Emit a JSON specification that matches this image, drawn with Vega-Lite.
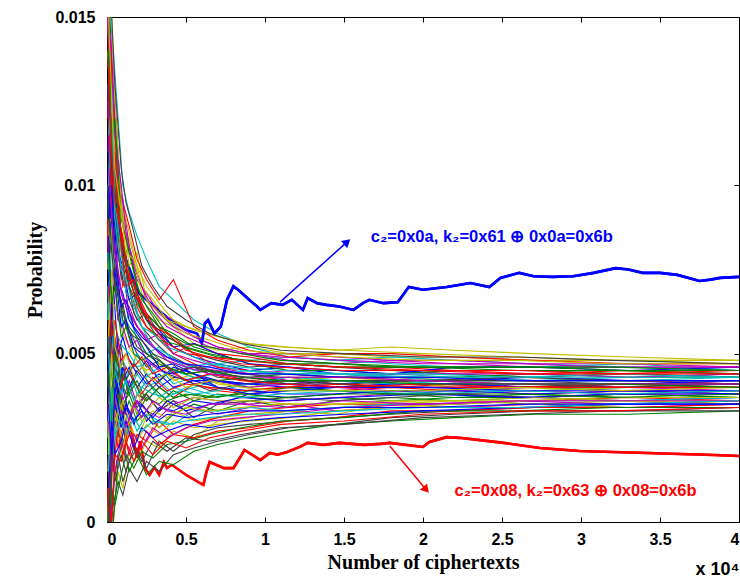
{
"$schema":"https://vega.github.io/schema/vega-lite/v6.json",
"width":632,"height":505,
"autosize":{"type":"none"},
"padding":{"left":107,"top":17,"right":1,"bottom":60},
"background":"white",
"config":{"view":{"stroke":"#000","strokeWidth":1},
"axis":{"grid":false,"domain":false,"labelFont":"Liberation Sans","labelFontWeight":"bold","labelFontSize":16,"labelColor":"#000","tickColor":"#000","tickSize":-5,"titleColor":"#000"}},
"title":{"text":"x 10⁴","orient":"bottom","anchor":"end","font":"Liberation Sans","fontWeight":"bold","fontSize":18,"color":"#000","offset":-11},
"datasets":{
"thin":[
{"s":1,"x":0.005,"y":0.015},{"s":1,"x":0.02,"y":0.014},{"s":1,"x":0.04,"y":0.011},{"s":1,"x":0.07,"y":0.0095},{"s":1,"x":0.1,"y":0.008},{"s":1,"x":0.14,"y":0.0072},{"s":1,"x":0.19,"y":0.0066},{"s":1,"x":0.25,"y":0.006},{"s":1,"x":0.33,"y":0.0057},{"s":1,"x":0.42,"y":0.0052},{"s":1,"x":0.55,"y":0.0049},{"s":1,"x":0.7,"y":0.0047},{"s":1,"x":0.9,"y":0.0045},{"s":1,"x":1.15,"y":0.0046},{"s":1,"x":1.45,"y":0.0044},{"s":1,"x":1.8,"y":0.0043},{"s":1,"x":2.2,"y":0.0043},{"s":1,"x":2.7,"y":0.0042},{"s":1,"x":3.3,"y":0.0042},{"s":1,"x":4,"y":0.0041},
{"s":2,"x":0.005,"y":0},{"s":2,"x":0.02,"y":0},{"s":2,"x":0.04,"y":0.0025},{"s":2,"x":0.07,"y":0.004},{"s":2,"x":0.1,"y":0.003},{"s":2,"x":0.14,"y":0.0036},{"s":2,"x":0.19,"y":0.003},{"s":2,"x":0.25,"y":0.0033},{"s":2,"x":0.33,"y":0.0028},{"s":2,"x":0.42,"y":0.0032},{"s":2,"x":0.55,"y":0.0035},{"s":2,"x":0.7,"y":0.0033},{"s":2,"x":0.9,"y":0.0036},{"s":2,"x":1.15,"y":0.0034},{"s":2,"x":1.45,"y":0.0036},{"s":2,"x":1.8,"y":0.0037},{"s":2,"x":2.2,"y":0.0036},{"s":2,"x":2.7,"y":0.0037},{"s":2,"x":3.3,"y":0.0038},{"s":2,"x":4,"y":0.0037},
{"s":3,"x":0.005,"y":0.012},{"s":3,"x":0.02,"y":0.015},{"s":3,"x":0.04,"y":0.012},{"s":3,"x":0.07,"y":0.009},{"s":3,"x":0.1,"y":0.0085},{"s":3,"x":0.14,"y":0.007},{"s":3,"x":0.19,"y":0.0062},{"s":3,"x":0.25,"y":0.0058},{"s":3,"x":0.33,"y":0.0054},{"s":3,"x":0.42,"y":0.005},{"s":3,"x":0.55,"y":0.0047},{"s":3,"x":0.7,"y":0.0044},{"s":3,"x":0.9,"y":0.0042},{"s":3,"x":1.15,"y":0.0043},{"s":3,"x":1.45,"y":0.0041},{"s":3,"x":1.8,"y":0.004},{"s":3,"x":2.2,"y":0.0041},{"s":3,"x":2.7,"y":0.0041},{"s":3,"x":3.3,"y":0.004},{"s":3,"x":4,"y":0.004},
{"s":4,"x":0.005,"y":0.006},{"s":4,"x":0.02,"y":0.008},{"s":4,"x":0.04,"y":0.0045},{"s":4,"x":0.07,"y":0.003},{"s":4,"x":0.1,"y":0.0045},{"s":4,"x":0.14,"y":0.0038},{"s":4,"x":0.19,"y":0.0044},{"s":4,"x":0.25,"y":0.004},{"s":4,"x":0.33,"y":0.0042},{"s":4,"x":0.42,"y":0.0038},{"s":4,"x":0.55,"y":0.004},{"s":4,"x":0.7,"y":0.0042},{"s":4,"x":0.9,"y":0.004},{"s":4,"x":1.15,"y":0.0042},{"s":4,"x":1.45,"y":0.0043},{"s":4,"x":1.8,"y":0.0044},{"s":4,"x":2.2,"y":0.0043},{"s":4,"x":2.7,"y":0.0042},{"s":4,"x":3.3,"y":0.0043},{"s":4,"x":4,"y":0.0044},
{"s":5,"x":0.005,"y":0.015},{"s":5,"x":0.02,"y":0.013},{"s":5,"x":0.04,"y":0.0135},{"s":5,"x":0.07,"y":0.011},{"s":5,"x":0.1,"y":0.009},{"s":5,"x":0.14,"y":0.008},{"s":5,"x":0.19,"y":0.0072},{"s":5,"x":0.25,"y":0.0068},{"s":5,"x":0.33,"y":0.0062},{"s":5,"x":0.42,"y":0.006},{"s":5,"x":0.55,"y":0.0055},{"s":5,"x":0.7,"y":0.0052},{"s":5,"x":0.9,"y":0.005},{"s":5,"x":1.15,"y":0.0048},{"s":5,"x":1.45,"y":0.0047},{"s":5,"x":1.8,"y":0.0048},{"s":5,"x":2.2,"y":0.0047},{"s":5,"x":2.7,"y":0.0046},{"s":5,"x":3.3,"y":0.0046},{"s":5,"x":4,"y":0.0046},
{"s":6,"x":0.005,"y":0},{"s":6,"x":0.02,"y":0},{"s":6,"x":0.04,"y":0},{"s":6,"x":0.07,"y":0.0015},{"s":6,"x":0.1,"y":0.001},{"s":6,"x":0.14,"y":0.002},{"s":6,"x":0.19,"y":0.0018},{"s":6,"x":0.25,"y":0.0024},{"s":6,"x":0.33,"y":0.0022},{"s":6,"x":0.42,"y":0.0027},{"s":6,"x":0.55,"y":0.0025},{"s":6,"x":0.7,"y":0.003},{"s":6,"x":0.9,"y":0.0031},{"s":6,"x":1.15,"y":0.0033},{"s":6,"x":1.45,"y":0.0032},{"s":6,"x":1.8,"y":0.0035},{"s":6,"x":2.2,"y":0.0034},{"s":6,"x":2.7,"y":0.0035},{"s":6,"x":3.3,"y":0.0036},{"s":6,"x":4,"y":0.0035},
{"s":7,"x":0.005,"y":0.009},{"s":7,"x":0.02,"y":0.011},{"s":7,"x":0.04,"y":0.008},{"s":7,"x":0.07,"y":0.006},{"s":7,"x":0.1,"y":0.0065},{"s":7,"x":0.14,"y":0.0055},{"s":7,"x":0.19,"y":0.005},{"s":7,"x":0.25,"y":0.0046},{"s":7,"x":0.33,"y":0.0048},{"s":7,"x":0.42,"y":0.0044},{"s":7,"x":0.55,"y":0.0046},{"s":7,"x":0.7,"y":0.0044},{"s":7,"x":0.9,"y":0.0043},{"s":7,"x":1.15,"y":0.0041},{"s":7,"x":1.45,"y":0.0042},{"s":7,"x":1.8,"y":0.0041},{"s":7,"x":2.2,"y":0.0041},{"s":7,"x":2.7,"y":0.004},{"s":7,"x":3.3,"y":0.0039},{"s":7,"x":4,"y":0.0039},
{"s":8,"x":0.005,"y":0.003},{"s":8,"x":0.02,"y":0.005},{"s":8,"x":0.04,"y":0.006},{"s":8,"x":0.07,"y":0.0038},{"s":8,"x":0.1,"y":0.004},{"s":8,"x":0.14,"y":0.0032},{"s":8,"x":0.19,"y":0.0036},{"s":8,"x":0.25,"y":0.003},{"s":8,"x":0.33,"y":0.0034},{"s":8,"x":0.42,"y":0.0033},{"s":8,"x":0.55,"y":0.0036},{"s":8,"x":0.7,"y":0.0035},{"s":8,"x":0.9,"y":0.0038},{"s":8,"x":1.15,"y":0.0037},{"s":8,"x":1.45,"y":0.0038},{"s":8,"x":1.8,"y":0.0039},{"s":8,"x":2.2,"y":0.0038},{"s":8,"x":2.7,"y":0.0037},{"s":8,"x":3.3,"y":0.0036},{"s":8,"x":4,"y":0.0037},
{"s":9,"x":0.005,"y":0.015},{"s":9,"x":0.02,"y":0.015},{"s":9,"x":0.04,"y":0.0105},{"s":9,"x":0.07,"y":0.01},{"s":9,"x":0.1,"y":0.0078},{"s":9,"x":0.14,"y":0.0082},{"s":9,"x":0.19,"y":0.007},{"s":9,"x":0.25,"y":0.0064},{"s":9,"x":0.33,"y":0.0058},{"s":9,"x":0.42,"y":0.0056},{"s":9,"x":0.55,"y":0.0052},{"s":9,"x":0.7,"y":0.005},{"s":9,"x":0.9,"y":0.0047},{"s":9,"x":1.15,"y":0.0045},{"s":9,"x":1.45,"y":0.0045},{"s":9,"x":1.8,"y":0.0044},{"s":9,"x":2.2,"y":0.0045},{"s":9,"x":2.7,"y":0.0045},{"s":9,"x":3.3,"y":0.0044},{"s":9,"x":4,"y":0.0043},
{"s":10,"x":0.005,"y":0},{"s":10,"x":0.02,"y":0.003},{"s":10,"x":0.04,"y":0.0015},{"s":10,"x":0.07,"y":0.004},{"s":10,"x":0.1,"y":0.0035},{"s":10,"x":0.14,"y":0.003},{"s":10,"x":0.19,"y":0.0038},{"s":10,"x":0.25,"y":0.0036},{"s":10,"x":0.33,"y":0.004},{"s":10,"x":0.42,"y":0.0037},{"s":10,"x":0.55,"y":0.0041},{"s":10,"x":0.7,"y":0.0039},{"s":10,"x":0.9,"y":0.0038},{"s":10,"x":1.15,"y":0.004},{"s":10,"x":1.45,"y":0.0039},{"s":10,"x":1.8,"y":0.004},{"s":10,"x":2.2,"y":0.0039},{"s":10,"x":2.7,"y":0.0038},{"s":10,"x":3.3,"y":0.0039},{"s":10,"x":4,"y":0.0038},
{"s":11,"x":0.005,"y":0.01},{"s":11,"x":0.02,"y":0.009},{"s":11,"x":0.04,"y":0.0075},{"s":11,"x":0.07,"y":0.007},{"s":11,"x":0.1,"y":0.0058},{"s":11,"x":0.14,"y":0.0062},{"s":11,"x":0.19,"y":0.0054},{"s":11,"x":0.25,"y":0.005},{"s":11,"x":0.33,"y":0.0052},{"s":11,"x":0.42,"y":0.0048},{"s":11,"x":0.55,"y":0.0045},{"s":11,"x":0.7,"y":0.0047},{"s":11,"x":0.9,"y":0.0048},{"s":11,"x":1.15,"y":0.0049},{"s":11,"x":1.45,"y":0.0048},{"s":11,"x":1.8,"y":0.0047},{"s":11,"x":2.2,"y":0.0046},{"s":11,"x":2.7,"y":0.0046},{"s":11,"x":3.3,"y":0.0047},{"s":11,"x":4,"y":0.0045},
{"s":12,"x":0.005,"y":0.0045},{"s":12,"x":0.02,"y":0.002},{"s":12,"x":0.04,"y":0.004},{"s":12,"x":0.07,"y":0.005},{"s":12,"x":0.1,"y":0.0036},{"s":12,"x":0.14,"y":0.0042},{"s":12,"x":0.19,"y":0.0035},{"s":12,"x":0.25,"y":0.0038},{"s":12,"x":0.33,"y":0.0033},{"s":12,"x":0.42,"y":0.0036},{"s":12,"x":0.55,"y":0.0034},{"s":12,"x":0.7,"y":0.0032},{"s":12,"x":0.9,"y":0.0034},{"s":12,"x":1.15,"y":0.0035},{"s":12,"x":1.45,"y":0.0033},{"s":12,"x":1.8,"y":0.0034},{"s":12,"x":2.2,"y":0.0034},{"s":12,"x":2.7,"y":0.0035},{"s":12,"x":3.3,"y":0.0034},{"s":12,"x":4,"y":0.0035},
{"s":13,"x":0.005,"y":0.014},{"s":13,"x":0.02,"y":0.012},{"s":13,"x":0.04,"y":0.0125},{"s":13,"x":0.07,"y":0.0096},{"s":13,"x":0.1,"y":0.0092},{"s":13,"x":0.14,"y":0.0076},{"s":13,"x":0.19,"y":0.008},{"s":13,"x":0.25,"y":0.0066},{"s":13,"x":0.33,"y":0.006},{"s":13,"x":0.42,"y":0.0058},{"s":13,"x":0.55,"y":0.0053},{"s":13,"x":0.7,"y":0.0051},{"s":13,"x":0.9,"y":0.0052},{"s":13,"x":1.15,"y":0.005},{"s":13,"x":1.45,"y":0.005},{"s":13,"x":1.8,"y":0.0049},{"s":13,"x":2.2,"y":0.0049},{"s":13,"x":2.7,"y":0.0048},{"s":13,"x":3.3,"y":0.0048},{"s":13,"x":4,"y":0.0047},
{"s":14,"x":0.005,"y":0},{"s":14,"x":0.02,"y":0},{"s":14,"x":0.04,"y":0.001},{"s":14,"x":0.07,"y":0.002},{"s":14,"x":0.1,"y":0.0012},{"s":14,"x":0.14,"y":0.0018},{"s":14,"x":0.19,"y":0.0022},{"s":14,"x":0.25,"y":0.0016},{"s":14,"x":0.33,"y":0.0024},{"s":14,"x":0.42,"y":0.0021},{"s":14,"x":0.55,"y":0.0026},{"s":14,"x":0.7,"y":0.0028},{"s":14,"x":0.9,"y":0.0029},{"s":14,"x":1.15,"y":0.003},{"s":14,"x":1.45,"y":0.0031},{"s":14,"x":1.8,"y":0.0032},{"s":14,"x":2.2,"y":0.0033},{"s":14,"x":2.7,"y":0.0034},{"s":14,"x":3.3,"y":0.0035},{"s":14,"x":4,"y":0.0036},
{"s":15,"x":0.005,"y":0.008},{"s":15,"x":0.02,"y":0.006},{"s":15,"x":0.04,"y":0.007},{"s":15,"x":0.07,"y":0.005},{"s":15,"x":0.1,"y":0.0055},{"s":15,"x":0.14,"y":0.0048},{"s":15,"x":0.19,"y":0.0044},{"s":15,"x":0.25,"y":0.0048},{"s":15,"x":0.33,"y":0.0042},{"s":15,"x":0.42,"y":0.0046},{"s":15,"x":0.55,"y":0.0044},{"s":15,"x":0.7,"y":0.0042},{"s":15,"x":0.9,"y":0.0041},{"s":15,"x":1.15,"y":0.0042},{"s":15,"x":1.45,"y":0.0041},{"s":15,"x":1.8,"y":0.0042},{"s":15,"x":2.2,"y":0.0042},{"s":15,"x":2.7,"y":0.0043},{"s":15,"x":3.3,"y":0.0042},{"s":15,"x":4,"y":0.0042},
{"s":16,"x":0.005,"y":0.002},{"s":16,"x":0.02,"y":0.004},{"s":16,"x":0.04,"y":0.003},{"s":16,"x":0.07,"y":0.0025},{"s":16,"x":0.1,"y":0.0035},{"s":16,"x":0.14,"y":0.0038},{"s":16,"x":0.19,"y":0.0032},{"s":16,"x":0.25,"y":0.0037},{"s":16,"x":0.33,"y":0.0035},{"s":16,"x":0.42,"y":0.0039},{"s":16,"x":0.55,"y":0.0036},{"s":16,"x":0.7,"y":0.0038},{"s":16,"x":0.9,"y":0.0037},{"s":16,"x":1.15,"y":0.0036},{"s":16,"x":1.45,"y":0.0037},{"s":16,"x":1.8,"y":0.0036},{"s":16,"x":2.2,"y":0.0037},{"s":16,"x":2.7,"y":0.0037},{"s":16,"x":3.3,"y":0.0038},{"s":16,"x":4,"y":0.0037},
{"s":17,"x":0.005,"y":0.015},{"s":17,"x":0.02,"y":0.01},{"s":17,"x":0.04,"y":0.009},{"s":17,"x":0.07,"y":0.0085},{"s":17,"x":0.1,"y":0.007},{"s":17,"x":0.14,"y":0.0074},{"s":17,"x":0.19,"y":0.0064},{"s":17,"x":0.25,"y":0.0058},{"s":17,"x":0.33,"y":0.0055},{"s":17,"x":0.42,"y":0.005},{"s":17,"x":0.55,"y":0.0053},{"s":17,"x":0.7,"y":0.005},{"s":17,"x":0.9,"y":0.0049},{"s":17,"x":1.15,"y":0.0047},{"s":17,"x":1.45,"y":0.0046},{"s":17,"x":1.8,"y":0.0046},{"s":17,"x":2.2,"y":0.0045},{"s":17,"x":2.7,"y":0.0044},{"s":17,"x":3.3,"y":0.0045},{"s":17,"x":4,"y":0.0044},
{"s":18,"x":0.005,"y":0.007},{"s":18,"x":0.02,"y":0.005},{"s":18,"x":0.04,"y":0.0055},{"s":18,"x":0.07,"y":0.0042},{"s":18,"x":0.1,"y":0.0048},{"s":18,"x":0.14,"y":0.0044},{"s":18,"x":0.19,"y":0.005},{"s":18,"x":0.25,"y":0.0043},{"s":18,"x":0.33,"y":0.0046},{"s":18,"x":0.42,"y":0.0041},{"s":18,"x":0.55,"y":0.0043},{"s":18,"x":0.7,"y":0.004},{"s":18,"x":0.9,"y":0.0038},{"s":18,"x":1.15,"y":0.0039},{"s":18,"x":1.45,"y":0.0039},{"s":18,"x":1.8,"y":0.0038},{"s":18,"x":2.2,"y":0.0039},{"s":18,"x":2.7,"y":0.0039},{"s":18,"x":3.3,"y":0.004},{"s":18,"x":4,"y":0.004},
{"s":19,"x":0.005,"y":0.011},{"s":19,"x":0.02,"y":0.0125},{"s":19,"x":0.04,"y":0.01},{"s":19,"x":0.07,"y":0.0078},{"s":19,"x":0.1,"y":0.0075},{"s":19,"x":0.14,"y":0.0062},{"s":19,"x":0.19,"y":0.0058},{"s":19,"x":0.25,"y":0.0054},{"s":19,"x":0.33,"y":0.0056},{"s":19,"x":0.42,"y":0.005},{"s":19,"x":0.55,"y":0.0048},{"s":19,"x":0.7,"y":0.0046},{"s":19,"x":0.9,"y":0.0044},{"s":19,"x":1.15,"y":0.0042},{"s":19,"x":1.45,"y":0.004},{"s":19,"x":1.8,"y":0.0039},{"s":19,"x":2.2,"y":0.0039},{"s":19,"x":2.7,"y":0.004},{"s":19,"x":3.3,"y":0.004},{"s":19,"x":4,"y":0.0039},
{"s":20,"x":0.005,"y":0},{"s":20,"x":0.02,"y":0.0035},{"s":20,"x":0.04,"y":0.002},{"s":20,"x":0.07,"y":0.0025},{"s":20,"x":0.1,"y":0.0018},{"s":20,"x":0.14,"y":0.0028},{"s":20,"x":0.19,"y":0.0025},{"s":20,"x":0.25,"y":0.0031},{"s":20,"x":0.33,"y":0.0028},{"s":20,"x":0.42,"y":0.0033},{"s":20,"x":0.55,"y":0.003},{"s":20,"x":0.7,"y":0.0031},{"s":20,"x":0.9,"y":0.0032},{"s":20,"x":1.15,"y":0.0033},{"s":20,"x":1.45,"y":0.0034},{"s":20,"x":1.8,"y":0.0035},{"s":20,"x":2.2,"y":0.0036},{"s":20,"x":2.7,"y":0.0035},{"s":20,"x":3.3,"y":0.0034},{"s":20,"x":4,"y":0.0034},
{"s":21,"x":0.005,"y":0.013},{"s":21,"x":0.02,"y":0.011},{"s":21,"x":0.04,"y":0.0095},{"s":21,"x":0.07,"y":0.008},{"s":21,"x":0.1,"y":0.0072},{"s":21,"x":0.14,"y":0.0066},{"s":21,"x":0.19,"y":0.006},{"s":21,"x":0.25,"y":0.0062},{"s":21,"x":0.33,"y":0.0056},{"s":21,"x":0.42,"y":0.0054},{"s":21,"x":0.55,"y":0.005},{"s":21,"x":0.7,"y":0.0048},{"s":21,"x":0.9,"y":0.0046},{"s":21,"x":1.15,"y":0.0047},{"s":21,"x":1.45,"y":0.0046},{"s":21,"x":1.8,"y":0.0045},{"s":21,"x":2.2,"y":0.0044},{"s":21,"x":2.7,"y":0.0043},{"s":21,"x":3.3,"y":0.0044},{"s":21,"x":4,"y":0.0043},
{"s":22,"x":0.005,"y":0.005},{"s":22,"x":0.02,"y":0.0065},{"s":22,"x":0.04,"y":0.0045},{"s":22,"x":0.07,"y":0.0055},{"s":22,"x":0.1,"y":0.0042},{"s":22,"x":0.14,"y":0.0046},{"s":22,"x":0.19,"y":0.004},{"s":22,"x":0.25,"y":0.0044},{"s":22,"x":0.33,"y":0.004},{"s":22,"x":0.42,"y":0.0043},{"s":22,"x":0.55,"y":0.0042},{"s":22,"x":0.7,"y":0.0042},{"s":22,"x":0.9,"y":0.0041},{"s":22,"x":1.15,"y":0.004},{"s":22,"x":1.45,"y":0.004},{"s":22,"x":1.8,"y":0.0041},{"s":22,"x":2.2,"y":0.0041},{"s":22,"x":2.7,"y":0.0041},{"s":22,"x":3.3,"y":0.0041},{"s":22,"x":4,"y":0.0041},
{"s":23,"x":0.005,"y":0.0095},{"s":23,"x":0.02,"y":0.008},{"s":23,"x":0.04,"y":0.009},{"s":23,"x":0.07,"y":0.0068},{"s":23,"x":0.1,"y":0.0062},{"s":23,"x":0.14,"y":0.0058},{"s":23,"x":0.19,"y":0.0055},{"s":23,"x":0.25,"y":0.005},{"s":23,"x":0.33,"y":0.0047},{"s":23,"x":0.42,"y":0.0045},{"s":23,"x":0.55,"y":0.0043},{"s":23,"x":0.7,"y":0.0042},{"s":23,"x":0.9,"y":0.0043},{"s":23,"x":1.15,"y":0.0044},{"s":23,"x":1.45,"y":0.0043},{"s":23,"x":1.8,"y":0.0043},{"s":23,"x":2.2,"y":0.0043},{"s":23,"x":2.7,"y":0.0044},{"s":23,"x":3.3,"y":0.0043},{"s":23,"x":4,"y":0.0043},
{"s":24,"x":0.005,"y":0.001},{"s":24,"x":0.02,"y":0},{"s":24,"x":0.04,"y":0.003},{"s":24,"x":0.07,"y":0.0022},{"s":24,"x":0.1,"y":0.0028},{"s":24,"x":0.14,"y":0.002},{"s":24,"x":0.19,"y":0.0026},{"s":24,"x":0.25,"y":0.0024},{"s":24,"x":0.33,"y":0.003},{"s":24,"x":0.42,"y":0.0026},{"s":24,"x":0.55,"y":0.0029},{"s":24,"x":0.7,"y":0.0031},{"s":24,"x":0.9,"y":0.0033},{"s":24,"x":1.15,"y":0.0034},{"s":24,"x":1.45,"y":0.0035},{"s":24,"x":1.8,"y":0.0035},{"s":24,"x":2.2,"y":0.0035},{"s":24,"x":2.7,"y":0.0036},{"s":24,"x":3.3,"y":0.0037},{"s":24,"x":4,"y":0.0036},
{"s":25,"x":0.005,"y":0.015},{"s":25,"x":0.02,"y":0.015},{"s":25,"x":0.04,"y":0.014},{"s":25,"x":0.07,"y":0.012},{"s":25,"x":0.1,"y":0.01},{"s":25,"x":0.14,"y":0.0092},{"s":25,"x":0.19,"y":0.0085},{"s":25,"x":0.25,"y":0.0078},{"s":25,"x":0.33,"y":0.007},{"s":25,"x":0.42,"y":0.0066},{"s":25,"x":0.55,"y":0.006},{"s":25,"x":0.7,"y":0.0056},{"s":25,"x":0.9,"y":0.0052},{"s":25,"x":1.15,"y":0.0049},{"s":25,"x":1.45,"y":0.0048},{"s":25,"x":1.8,"y":0.0049},{"s":25,"x":2.2,"y":0.0048},{"s":25,"x":2.7,"y":0.0047},{"s":25,"x":3.3,"y":0.0046},{"s":25,"x":4,"y":0.0045},
{"s":26,"x":0.005,"y":0.0035},{"s":26,"x":0.02,"y":0.0015},{"s":26,"x":0.04,"y":0.0035},{"s":26,"x":0.07,"y":0.0028},{"s":26,"x":0.1,"y":0.0034},{"s":26,"x":0.14,"y":0.003},{"s":26,"x":0.19,"y":0.0036},{"s":26,"x":0.25,"y":0.0033},{"s":26,"x":0.33,"y":0.0031},{"s":26,"x":0.42,"y":0.0035},{"s":26,"x":0.55,"y":0.0037},{"s":26,"x":0.7,"y":0.0036},{"s":26,"x":0.9,"y":0.0035},{"s":26,"x":1.15,"y":0.0036},{"s":26,"x":1.45,"y":0.0037},{"s":26,"x":1.8,"y":0.0038},{"s":26,"x":2.2,"y":0.0038},{"s":26,"x":2.7,"y":0.0039},{"s":26,"x":3.3,"y":0.0038},{"s":26,"x":4,"y":0.0038},
{"s":27,"x":0.005,"y":0.0075},{"s":27,"x":0.02,"y":0.0095},{"s":27,"x":0.04,"y":0.0065},{"s":27,"x":0.07,"y":0.0062},{"s":27,"x":0.1,"y":0.0056},{"s":27,"x":0.14,"y":0.0052},{"s":27,"x":0.19,"y":0.0048},{"s":27,"x":0.25,"y":0.0045},{"s":27,"x":0.33,"y":0.0047},{"s":27,"x":0.42,"y":0.0042},{"s":27,"x":0.55,"y":0.0044},{"s":27,"x":0.7,"y":0.0041},{"s":27,"x":0.9,"y":0.004},{"s":27,"x":1.15,"y":0.0042},{"s":27,"x":1.45,"y":0.0043},{"s":27,"x":1.8,"y":0.0042},{"s":27,"x":2.2,"y":0.004},{"s":27,"x":2.7,"y":0.0039},{"s":27,"x":3.3,"y":0.004},{"s":27,"x":4,"y":0.004},
{"s":28,"x":0.005,"y":0},{"s":28,"x":0.02,"y":0},{"s":28,"x":0.04,"y":0.0005},{"s":28,"x":0.07,"y":0.0012},{"s":28,"x":0.1,"y":0.0008},{"s":28,"x":0.14,"y":0.0016},{"s":28,"x":0.19,"y":0.0012},{"s":28,"x":0.25,"y":0.0018},{"s":28,"x":0.33,"y":0.0015},{"s":28,"x":0.42,"y":0.002},{"s":28,"x":0.55,"y":0.0022},{"s":28,"x":0.7,"y":0.0024},{"s":28,"x":0.9,"y":0.0026},{"s":28,"x":1.15,"y":0.0028},{"s":28,"x":1.45,"y":0.0029},{"s":28,"x":1.8,"y":0.0031},{"s":28,"x":2.2,"y":0.0032},{"s":28,"x":2.7,"y":0.0033},{"s":28,"x":3.3,"y":0.0033},{"s":28,"x":4,"y":0.0034},
{"s":29,"x":0.005,"y":0.0115},{"s":29,"x":0.02,"y":0.009},{"s":29,"x":0.04,"y":0.0105},{"s":29,"x":0.07,"y":0.008},{"s":29,"x":0.1,"y":0.0076},{"s":29,"x":0.14,"y":0.0066},{"s":29,"x":0.19,"y":0.0068},{"s":29,"x":0.25,"y":0.006},{"s":29,"x":0.33,"y":0.0056},{"s":29,"x":0.42,"y":0.0052},{"s":29,"x":0.55,"y":0.0053},{"s":29,"x":0.7,"y":0.005},{"s":29,"x":0.9,"y":0.0047},{"s":29,"x":1.15,"y":0.0046},{"s":29,"x":1.45,"y":0.0045},{"s":29,"x":1.8,"y":0.0044},{"s":29,"x":2.2,"y":0.0046},{"s":29,"x":2.7,"y":0.0046},{"s":29,"x":3.3,"y":0.0045},{"s":29,"x":4,"y":0.0046},
{"s":30,"x":0.005,"y":0.0055},{"s":30,"x":0.02,"y":0.004},{"s":30,"x":0.04,"y":0.005},{"s":30,"x":0.07,"y":0.0035},{"s":30,"x":0.1,"y":0.0044},{"s":30,"x":0.14,"y":0.0038},{"s":30,"x":0.19,"y":0.0042},{"s":30,"x":0.25,"y":0.0036},{"s":30,"x":0.33,"y":0.004},{"s":30,"x":0.42,"y":0.0037},{"s":30,"x":0.55,"y":0.0038},{"s":30,"x":0.7,"y":0.0037},{"s":30,"x":0.9,"y":0.0039},{"s":30,"x":1.15,"y":0.004},{"s":30,"x":1.45,"y":0.0039},{"s":30,"x":1.8,"y":0.0038},{"s":30,"x":2.2,"y":0.0037},{"s":30,"x":2.7,"y":0.0038},{"s":30,"x":3.3,"y":0.0037},{"s":30,"x":4,"y":0.0037},
{"s":31,"x":0.005,"y":0.0135},{"s":31,"x":0.02,"y":0.0145},{"s":31,"x":0.04,"y":0.011},{"s":31,"x":0.07,"y":0.0092},{"s":31,"x":0.1,"y":0.0084},{"s":31,"x":0.14,"y":0.0074},{"s":31,"x":0.19,"y":0.0068},{"s":31,"x":0.25,"y":0.0062},{"s":31,"x":0.33,"y":0.0058},{"s":31,"x":0.42,"y":0.0055},{"s":31,"x":0.55,"y":0.005},{"s":31,"x":0.7,"y":0.0046},{"s":31,"x":0.9,"y":0.0045},{"s":31,"x":1.15,"y":0.0044},{"s":31,"x":1.45,"y":0.0043},{"s":31,"x":1.8,"y":0.0043},{"s":31,"x":2.2,"y":0.0042},{"s":31,"x":2.7,"y":0.0042},{"s":31,"x":3.3,"y":0.0042},{"s":31,"x":4,"y":0.0041},
{"s":32,"x":0.005,"y":0.0025},{"s":32,"x":0.02,"y":0.0045},{"s":32,"x":0.04,"y":0.002},{"s":32,"x":0.07,"y":0.0035},{"s":32,"x":0.1,"y":0.0028},{"s":32,"x":0.14,"y":0.0033},{"s":32,"x":0.19,"y":0.0027},{"s":32,"x":0.25,"y":0.0032},{"s":32,"x":0.33,"y":0.003},{"s":32,"x":0.42,"y":0.0029},{"s":32,"x":0.55,"y":0.0033},{"s":32,"x":0.7,"y":0.0033},{"s":32,"x":0.9,"y":0.0034},{"s":32,"x":1.15,"y":0.0033},{"s":32,"x":1.45,"y":0.0034},{"s":32,"x":1.8,"y":0.0035},{"s":32,"x":2.2,"y":0.0035},{"s":32,"x":2.7,"y":0.0036},{"s":32,"x":3.3,"y":0.0036},{"s":32,"x":4,"y":0.0037},
{"s":33,"x":0.005,"y":0.0085},{"s":33,"x":0.02,"y":0.007},{"s":33,"x":0.04,"y":0.0075},{"s":33,"x":0.07,"y":0.006},{"s":33,"x":0.1,"y":0.0058},{"s":33,"x":0.14,"y":0.0052},{"s":33,"x":0.19,"y":0.0054},{"s":33,"x":0.25,"y":0.0048},{"s":33,"x":0.33,"y":0.0045},{"s":33,"x":0.42,"y":0.0044},{"s":33,"x":0.55,"y":0.0041},{"s":33,"x":0.7,"y":0.0042},{"s":33,"x":0.9,"y":0.004},{"s":33,"x":1.15,"y":0.0041},{"s":33,"x":1.45,"y":0.004},{"s":33,"x":1.8,"y":0.004},{"s":33,"x":2.2,"y":0.004},{"s":33,"x":2.7,"y":0.0041},{"s":33,"x":3.3,"y":0.0041},{"s":33,"x":4,"y":0.004},
{"s":34,"x":0.005,"y":0.015},{"s":34,"x":0.02,"y":0.013},{"s":34,"x":0.04,"y":0.0115},{"s":34,"x":0.07,"y":0.0105},{"s":34,"x":0.1,"y":0.0088},{"s":34,"x":0.14,"y":0.0084},{"s":34,"x":0.19,"y":0.0076},{"s":34,"x":0.25,"y":0.007},{"s":34,"x":0.33,"y":0.0065},{"s":34,"x":0.42,"y":0.006},{"s":34,"x":0.55,"y":0.0057},{"s":34,"x":0.7,"y":0.0055},{"s":34,"x":0.9,"y":0.0053},{"s":34,"x":1.15,"y":0.0052},{"s":34,"x":1.45,"y":0.0051},{"s":34,"x":1.8,"y":0.0052},{"s":34,"x":2.2,"y":0.0051},{"s":34,"x":2.7,"y":0.005},{"s":34,"x":3.3,"y":0.0049},{"s":34,"x":4,"y":0.0048},
{"s":35,"x":0.005,"y":0.004},{"s":35,"x":0.02,"y":0.006},{"s":35,"x":0.04,"y":0.0035},{"s":35,"x":0.07,"y":0.0045},{"s":35,"x":0.1,"y":0.0033},{"s":35,"x":0.14,"y":0.004},{"s":35,"x":0.19,"y":0.0034},{"s":35,"x":0.25,"y":0.0038},{"s":35,"x":0.33,"y":0.0033},{"s":35,"x":0.42,"y":0.0036},{"s":35,"x":0.55,"y":0.0031},{"s":35,"x":0.7,"y":0.0035},{"s":35,"x":0.9,"y":0.0036},{"s":35,"x":1.15,"y":0.0037},{"s":35,"x":1.45,"y":0.0036},{"s":35,"x":1.8,"y":0.0037},{"s":35,"x":2.2,"y":0.0038},{"s":35,"x":2.7,"y":0.0037},{"s":35,"x":3.3,"y":0.0038},{"s":35,"x":4,"y":0.0039},
{"s":36,"x":0.005,"y":0.0105},{"s":36,"x":0.02,"y":0.0085},{"s":36,"x":0.04,"y":0.0095},{"s":36,"x":0.07,"y":0.0072},{"s":36,"x":0.1,"y":0.0068},{"s":36,"x":0.14,"y":0.006},{"s":36,"x":0.19,"y":0.0056},{"s":36,"x":0.25,"y":0.0052},{"s":36,"x":0.33,"y":0.0046},{"s":36,"x":0.42,"y":0.0047},{"s":36,"x":0.55,"y":0.0044},{"s":36,"x":0.7,"y":0.004},{"s":36,"x":0.9,"y":0.0038},{"s":36,"x":1.15,"y":0.0039},{"s":36,"x":1.45,"y":0.004},{"s":36,"x":1.8,"y":0.0041},{"s":36,"x":2.2,"y":0.0041},{"s":36,"x":2.7,"y":0.004},{"s":36,"x":3.3,"y":0.0041},{"s":36,"x":4,"y":0.0042},
{"s":37,"x":0.005,"y":0},{"s":37,"x":0.02,"y":0.002},{"s":37,"x":0.04,"y":0},{"s":37,"x":0.07,"y":0.0018},{"s":37,"x":0.1,"y":0.0025},{"s":37,"x":0.14,"y":0.0015},{"s":37,"x":0.19,"y":0.002},{"s":37,"x":0.25,"y":0.0014},{"s":37,"x":0.33,"y":0.0018},{"s":37,"x":0.42,"y":0.0017},{"s":37,"x":0.55,"y":0.0021},{"s":37,"x":0.7,"y":0.0023},{"s":37,"x":0.9,"y":0.0025},{"s":37,"x":1.15,"y":0.0027},{"s":37,"x":1.45,"y":0.0029},{"s":37,"x":1.8,"y":0.003},{"s":37,"x":2.2,"y":0.0031},{"s":37,"x":2.7,"y":0.0032},{"s":37,"x":3.3,"y":0.0032},{"s":37,"x":4,"y":0.0033},
{"s":38,"x":0.005,"y":0.015},{"s":38,"x":0.02,"y":0.014},{"s":38,"x":0.04,"y":0.0125},{"s":38,"x":0.07,"y":0.01},{"s":38,"x":0.1,"y":0.0095},{"s":38,"x":0.14,"y":0.0088},{"s":38,"x":0.19,"y":0.0078},{"s":38,"x":0.25,"y":0.0072},{"s":38,"x":0.33,"y":0.0066},{"s":38,"x":0.42,"y":0.0072},{"s":38,"x":0.55,"y":0.0058},{"s":38,"x":0.7,"y":0.0054},{"s":38,"x":0.9,"y":0.0051},{"s":38,"x":1.15,"y":0.0049},{"s":38,"x":1.45,"y":0.005},{"s":38,"x":1.8,"y":0.005},{"s":38,"x":2.2,"y":0.0049},{"s":38,"x":2.7,"y":0.0048},{"s":38,"x":3.3,"y":0.0047},{"s":38,"x":4,"y":0.0047},
{"s":39,"x":0.005,"y":0.0065},{"s":39,"x":0.02,"y":0.0045},{"s":39,"x":0.04,"y":0.0055},{"s":39,"x":0.07,"y":0.0048},{"s":39,"x":0.1,"y":0.004},{"s":39,"x":0.14,"y":0.0045},{"s":39,"x":0.19,"y":0.0038},{"s":39,"x":0.25,"y":0.0042},{"s":39,"x":0.33,"y":0.0037},{"s":39,"x":0.42,"y":0.004},{"s":39,"x":0.55,"y":0.0038},{"s":39,"x":0.7,"y":0.0039},{"s":39,"x":0.9,"y":0.0041},{"s":39,"x":1.15,"y":0.0043},{"s":39,"x":1.45,"y":0.0042},{"s":39,"x":1.8,"y":0.0041},{"s":39,"x":2.2,"y":0.0042},{"s":39,"x":2.7,"y":0.0042},{"s":39,"x":3.3,"y":0.0042},{"s":39,"x":4,"y":0.0043},
{"s":40,"x":0.005,"y":0.0125},{"s":40,"x":0.02,"y":0.0105},{"s":40,"x":0.04,"y":0.0085},{"s":40,"x":0.07,"y":0.0075},{"s":40,"x":0.1,"y":0.0066},{"s":40,"x":0.14,"y":0.0064},{"s":40,"x":0.19,"y":0.0058},{"s":40,"x":0.25,"y":0.0055},{"s":40,"x":0.33,"y":0.005},{"s":40,"x":0.42,"y":0.0048},{"s":40,"x":0.55,"y":0.0046},{"s":40,"x":0.7,"y":0.0045},{"s":40,"x":0.9,"y":0.0044},{"s":40,"x":1.15,"y":0.0045},{"s":40,"x":1.45,"y":0.0044},{"s":40,"x":1.8,"y":0.0044},{"s":40,"x":2.2,"y":0.0044},{"s":40,"x":2.7,"y":0.0044},{"s":40,"x":3.3,"y":0.0043},{"s":40,"x":4,"y":0.0044},
{"s":41,"x":0.005,"y":0.0015},{"s":41,"x":0.02,"y":0.003},{"s":41,"x":0.04,"y":0.0025},{"s":41,"x":0.07,"y":0.0032},{"s":41,"x":0.1,"y":0.0022},{"s":41,"x":0.14,"y":0.003},{"s":41,"x":0.19,"y":0.0024},{"s":41,"x":0.25,"y":0.0029},{"s":41,"x":0.33,"y":0.0026},{"s":41,"x":0.42,"y":0.003},{"s":41,"x":0.55,"y":0.0028},{"s":41,"x":0.7,"y":0.0029},{"s":41,"x":0.9,"y":0.003},{"s":41,"x":1.15,"y":0.0031},{"s":41,"x":1.45,"y":0.0033},{"s":41,"x":1.8,"y":0.0034},{"s":41,"x":2.2,"y":0.0035},{"s":41,"x":2.7,"y":0.0036},{"s":41,"x":3.3,"y":0.0036},{"s":41,"x":4,"y":0.0035},
{"s":42,"x":0.005,"y":0.0095},{"s":42,"x":0.02,"y":0.0115},{"s":42,"x":0.04,"y":0.008},{"s":42,"x":0.07,"y":0.007},{"s":42,"x":0.1,"y":0.006},{"s":42,"x":0.14,"y":0.0057},{"s":42,"x":0.19,"y":0.0052},{"s":42,"x":0.25,"y":0.005},{"s":42,"x":0.33,"y":0.0048},{"s":42,"x":0.42,"y":0.0045},{"s":42,"x":0.55,"y":0.0046},{"s":42,"x":0.7,"y":0.0043},{"s":42,"x":0.9,"y":0.0042},{"s":42,"x":1.15,"y":0.0041},{"s":42,"x":1.45,"y":0.0041},{"s":42,"x":1.8,"y":0.004},{"s":42,"x":2.2,"y":0.004},{"s":42,"x":2.7,"y":0.004},{"s":42,"x":3.3,"y":0.0041},{"s":42,"x":4,"y":0.0041},
{"s":43,"x":0.005,"y":0.005},{"s":43,"x":0.02,"y":0.003},{"s":43,"x":0.04,"y":0.0045},{"s":43,"x":0.07,"y":0.0038},{"s":43,"x":0.1,"y":0.0046},{"s":43,"x":0.14,"y":0.004},{"s":43,"x":0.19,"y":0.0045},{"s":43,"x":0.25,"y":0.0041},{"s":43,"x":0.33,"y":0.0044},{"s":43,"x":0.42,"y":0.004},{"s":43,"x":0.55,"y":0.0042},{"s":43,"x":0.7,"y":0.004},{"s":43,"x":0.9,"y":0.0039},{"s":43,"x":1.15,"y":0.0038},{"s":43,"x":1.45,"y":0.0038},{"s":43,"x":1.8,"y":0.0039},{"s":43,"x":2.2,"y":0.0039},{"s":43,"x":2.7,"y":0.0038},{"s":43,"x":3.3,"y":0.0039},{"s":43,"x":4,"y":0.0038},
{"s":44,"x":0.005,"y":0.014},{"s":44,"x":0.02,"y":0.0135},{"s":44,"x":0.04,"y":0.01},{"s":44,"x":0.07,"y":0.0086},{"s":44,"x":0.1,"y":0.0078},{"s":44,"x":0.14,"y":0.007},{"s":44,"x":0.19,"y":0.0065},{"s":44,"x":0.25,"y":0.006},{"s":44,"x":0.33,"y":0.0054},{"s":44,"x":0.42,"y":0.0053},{"s":44,"x":0.55,"y":0.0051},{"s":44,"x":0.7,"y":0.0049},{"s":44,"x":0.9,"y":0.0048},{"s":44,"x":1.15,"y":0.0047},{"s":44,"x":1.45,"y":0.0047},{"s":44,"x":1.8,"y":0.0046},{"s":44,"x":2.2,"y":0.0046},{"s":44,"x":2.7,"y":0.0046},{"s":44,"x":3.3,"y":0.0045},{"s":44,"x":4,"y":0.0045},
{"s":45,"x":0.005,"y":0.0005},{"s":45,"x":0.02,"y":0.0025},{"s":45,"x":0.04,"y":0.0015},{"s":45,"x":0.07,"y":0.0028},{"s":45,"x":0.1,"y":0.002},{"s":45,"x":0.14,"y":0.0026},{"s":45,"x":0.19,"y":0.0021},{"s":45,"x":0.25,"y":0.0027},{"s":45,"x":0.33,"y":0.0023},{"s":45,"x":0.42,"y":0.0026},{"s":45,"x":0.55,"y":0.0025},{"s":45,"x":0.7,"y":0.0027},{"s":45,"x":0.9,"y":0.0028},{"s":45,"x":1.15,"y":0.003},{"s":45,"x":1.45,"y":0.0031},{"s":45,"x":1.8,"y":0.0033},{"s":45,"x":2.2,"y":0.0033},{"s":45,"x":2.7,"y":0.0034},{"s":45,"x":3.3,"y":0.0034},{"s":45,"x":4,"y":0.0035},
{"s":46,"x":0.005,"y":0.008},{"s":46,"x":0.02,"y":0.007},{"s":46,"x":0.04,"y":0.006},{"s":46,"x":0.07,"y":0.0055},{"s":46,"x":0.1,"y":0.0052},{"s":46,"x":0.14,"y":0.005},{"s":46,"x":0.19,"y":0.0046},{"s":46,"x":0.25,"y":0.0047},{"s":46,"x":0.33,"y":0.0043},{"s":46,"x":0.42,"y":0.0045},{"s":46,"x":0.55,"y":0.0043},{"s":46,"x":0.7,"y":0.0044},{"s":46,"x":0.9,"y":0.0045},{"s":46,"x":1.15,"y":0.0044},{"s":46,"x":1.45,"y":0.0044},{"s":46,"x":1.8,"y":0.0043},{"s":46,"x":2.2,"y":0.0042},{"s":46,"x":2.7,"y":0.0042},{"s":46,"x":3.3,"y":0.0042},{"s":46,"x":4,"y":0.0042},
{"s":47,"x":0.005,"y":0.015},{"s":47,"x":0.02,"y":0.012},{"s":47,"x":0.04,"y":0.013},{"s":47,"x":0.07,"y":0.0098},{"s":47,"x":0.1,"y":0.0096},{"s":47,"x":0.14,"y":0.0082},{"s":47,"x":0.19,"y":0.0074},{"s":47,"x":0.25,"y":0.0066},{"s":47,"x":0.33,"y":0.0062},{"s":47,"x":0.42,"y":0.0058},{"s":47,"x":0.55,"y":0.0055},{"s":47,"x":0.7,"y":0.0052},{"s":47,"x":0.9,"y":0.005},{"s":47,"x":1.15,"y":0.005},{"s":47,"x":1.45,"y":0.0049},{"s":47,"x":1.8,"y":0.0048},{"s":47,"x":2.2,"y":0.0048},{"s":47,"x":2.7,"y":0.0047},{"s":47,"x":3.3,"y":0.0047},{"s":47,"x":4,"y":0.0046},
{"s":48,"x":0.005,"y":0.003},{"s":48,"x":0.02,"y":0.001},{"s":48,"x":0.04,"y":0.0035},{"s":48,"x":0.07,"y":0.003},{"s":48,"x":0.1,"y":0.0036},{"s":48,"x":0.14,"y":0.0032},{"s":48,"x":0.19,"y":0.0038},{"s":48,"x":0.25,"y":0.0033},{"s":48,"x":0.33,"y":0.0037},{"s":48,"x":0.42,"y":0.0034},{"s":48,"x":0.55,"y":0.0037},{"s":48,"x":0.7,"y":0.0036},{"s":48,"x":0.9,"y":0.0036},{"s":48,"x":1.15,"y":0.0035},{"s":48,"x":1.45,"y":0.0035},{"s":48,"x":1.8,"y":0.0036},{"s":48,"x":2.2,"y":0.0036},{"s":48,"x":2.7,"y":0.0037},{"s":48,"x":3.3,"y":0.0036},{"s":48,"x":4,"y":0.0036},
{"s":49,"x":0.01,"y":0.013},{"s":49,"x":0.03,"y":0.0105},{"s":49,"x":0.05,"y":0.009},{"s":49,"x":0.09,"y":0.0072},{"s":49,"x":0.12,"y":0.0075},{"s":49,"x":0.17,"y":0.0062},{"s":49,"x":0.22,"y":0.0058},{"s":49,"x":0.29,"y":0.0054},{"s":49,"x":0.38,"y":0.005},{"s":49,"x":0.5,"y":0.0047},{"s":49,"x":0.65,"y":0.0045},{"s":49,"x":0.85,"y":0.0044},{"s":49,"x":1.1,"y":0.0043},{"s":49,"x":1.5,"y":0.0043},{"s":49,"x":2,"y":0.0042},{"s":49,"x":2.6,"y":0.0042},{"s":49,"x":3.2,"y":0.0041},{"s":49,"x":4,"y":0.0041},
{"s":50,"x":0.01,"y":0},{"s":50,"x":0.03,"y":0.002},{"s":50,"x":0.05,"y":0.0035},{"s":50,"x":0.09,"y":0.0028},{"s":50,"x":0.12,"y":0.0034},{"s":50,"x":0.17,"y":0.0029},{"s":50,"x":0.22,"y":0.0035},{"s":50,"x":0.29,"y":0.0031},{"s":50,"x":0.38,"y":0.0036},{"s":50,"x":0.5,"y":0.0033},{"s":50,"x":0.65,"y":0.0035},{"s":50,"x":0.85,"y":0.0037},{"s":50,"x":1.1,"y":0.0036},{"s":50,"x":1.5,"y":0.0037},{"s":50,"x":2,"y":0.0038},{"s":50,"x":2.6,"y":0.0037},{"s":50,"x":3.2,"y":0.0038},{"s":50,"x":4,"y":0.0038},
{"s":51,"x":0.01,"y":0.015},{"s":51,"x":0.03,"y":0.012},{"s":51,"x":0.05,"y":0.01},{"s":51,"x":0.09,"y":0.0085},{"s":51,"x":0.12,"y":0.0078},{"s":51,"x":0.17,"y":0.007},{"s":51,"x":0.22,"y":0.0062},{"s":51,"x":0.29,"y":0.006},{"s":51,"x":0.38,"y":0.0055},{"s":51,"x":0.5,"y":0.0052},{"s":51,"x":0.65,"y":0.005},{"s":51,"x":0.85,"y":0.0048},{"s":51,"x":1.1,"y":0.0047},{"s":51,"x":1.5,"y":0.0046},{"s":51,"x":2,"y":0.0046},{"s":51,"x":2.6,"y":0.0045},{"s":51,"x":3.2,"y":0.0045},{"s":51,"x":4,"y":0.0044},
{"s":52,"x":0.01,"y":0.006},{"s":52,"x":0.03,"y":0.0045},{"s":52,"x":0.05,"y":0.0055},{"s":52,"x":0.09,"y":0.004},{"s":52,"x":0.12,"y":0.0046},{"s":52,"x":0.17,"y":0.0042},{"s":52,"x":0.22,"y":0.0038},{"s":52,"x":0.29,"y":0.0043},{"s":52,"x":0.38,"y":0.0039},{"s":52,"x":0.5,"y":0.0041},{"s":52,"x":0.65,"y":0.004},{"s":52,"x":0.85,"y":0.0039},{"s":52,"x":1.1,"y":0.004},{"s":52,"x":1.5,"y":0.0041},{"s":52,"x":2,"y":0.004},{"s":52,"x":2.6,"y":0.004},{"s":52,"x":3.2,"y":0.0041},{"s":52,"x":4,"y":0.004},
{"s":53,"x":0.01,"y":0.01},{"s":53,"x":0.03,"y":0.013},{"s":53,"x":0.05,"y":0.0095},{"s":53,"x":0.09,"y":0.008},{"s":53,"x":0.12,"y":0.0068},{"s":53,"x":0.17,"y":0.0066},{"s":53,"x":0.22,"y":0.0058},{"s":53,"x":0.29,"y":0.0052},{"s":53,"x":0.38,"y":0.005},{"s":53,"x":0.5,"y":0.0046},{"s":53,"x":0.65,"y":0.0047},{"s":53,"x":0.85,"y":0.0045},{"s":53,"x":1.1,"y":0.0044},{"s":53,"x":1.5,"y":0.0044},{"s":53,"x":2,"y":0.0043},{"s":53,"x":2.6,"y":0.0043},{"s":53,"x":3.2,"y":0.0044},{"s":53,"x":4,"y":0.0043},
{"s":54,"x":0.01,"y":0.002},{"s":54,"x":0.03,"y":0},{"s":54,"x":0.05,"y":0.0015},{"s":54,"x":0.09,"y":0.0025},{"s":54,"x":0.12,"y":0.0018},{"s":54,"x":0.17,"y":0.0026},{"s":54,"x":0.22,"y":0.0022},{"s":54,"x":0.29,"y":0.0028},{"s":54,"x":0.38,"y":0.0025},{"s":54,"x":0.5,"y":0.0028},{"s":54,"x":0.65,"y":0.003},{"s":54,"x":0.85,"y":0.0031},{"s":54,"x":1.1,"y":0.0032},{"s":54,"x":1.5,"y":0.0034},{"s":54,"x":2,"y":0.0035},{"s":54,"x":2.6,"y":0.0036},{"s":54,"x":3.2,"y":0.0035},{"s":54,"x":4,"y":0.0036},
{"s":55,"x":0.01,"y":0.015},{"s":55,"x":0.03,"y":0.015},{"s":55,"x":0.05,"y":0.0125},{"s":55,"x":0.09,"y":0.0095},{"s":55,"x":0.12,"y":0.009},{"s":55,"x":0.17,"y":0.008},{"s":55,"x":0.22,"y":0.007},{"s":55,"x":0.29,"y":0.0066},{"s":55,"x":0.38,"y":0.006},{"s":55,"x":0.5,"y":0.0056},{"s":55,"x":0.65,"y":0.0054},{"s":55,"x":0.85,"y":0.0051},{"s":55,"x":1.1,"y":0.005},{"s":55,"x":1.5,"y":0.0049},{"s":55,"x":2,"y":0.0048},{"s":55,"x":2.6,"y":0.0048},{"s":55,"x":3.2,"y":0.0047},{"s":55,"x":4,"y":0.0047},
{"s":56,"x":0.01,"y":0.004},{"s":56,"x":0.03,"y":0.007},{"s":56,"x":0.05,"y":0.0048},{"s":56,"x":0.09,"y":0.0052},{"s":56,"x":0.12,"y":0.0042},{"s":56,"x":0.17,"y":0.0047},{"s":56,"x":0.22,"y":0.0044},{"s":56,"x":0.29,"y":0.004},{"s":56,"x":0.38,"y":0.0044},{"s":56,"x":0.5,"y":0.0042},{"s":56,"x":0.65,"y":0.0039},{"s":56,"x":0.85,"y":0.0041},{"s":56,"x":1.1,"y":0.0042},{"s":56,"x":1.5,"y":0.0041},{"s":56,"x":2,"y":0.0042},{"s":56,"x":2.6,"y":0.0041},{"s":56,"x":3.2,"y":0.004},{"s":56,"x":4,"y":0.0041},
{"s":57,"x":0.01,"y":0.0085},{"s":57,"x":0.03,"y":0.006},{"s":57,"x":0.05,"y":0.0075},{"s":57,"x":0.09,"y":0.0058},{"s":57,"x":0.12,"y":0.006},{"s":57,"x":0.17,"y":0.0052},{"s":57,"x":0.22,"y":0.005},{"s":57,"x":0.29,"y":0.0047},{"s":57,"x":0.38,"y":0.0044},{"s":57,"x":0.5,"y":0.0045},{"s":57,"x":0.65,"y":0.0042},{"s":57,"x":0.85,"y":0.0041},{"s":57,"x":1.1,"y":0.0041},{"s":57,"x":1.5,"y":0.004},{"s":57,"x":2,"y":0.004},{"s":57,"x":2.6,"y":0.0039},{"s":57,"x":3.2,"y":0.0039},{"s":57,"x":4,"y":0.0039},
{"s":58,"x":0.01,"y":0},{"s":58,"x":0.03,"y":0.001},{"s":58,"x":0.05,"y":0.0005},{"s":58,"x":0.09,"y":0.0014},{"s":58,"x":0.12,"y":0.002},{"s":58,"x":0.17,"y":0.0016},{"s":58,"x":0.22,"y":0.0021},{"s":58,"x":0.29,"y":0.0019},{"s":58,"x":0.38,"y":0.0023},{"s":58,"x":0.5,"y":0.0024},{"s":58,"x":0.65,"y":0.0026},{"s":58,"x":0.85,"y":0.0028},{"s":58,"x":1.1,"y":0.003},{"s":58,"x":1.5,"y":0.0031},{"s":58,"x":2,"y":0.0033},{"s":58,"x":2.6,"y":0.0033},{"s":58,"x":3.2,"y":0.0034},{"s":58,"x":4,"y":0.0034},
{"s":59,"x":0.01,"y":0.012},{"s":59,"x":0.03,"y":0.0095},{"s":59,"x":0.05,"y":0.011},{"s":59,"x":0.09,"y":0.0082},{"s":59,"x":0.12,"y":0.007},{"s":59,"x":0.17,"y":0.0072},{"s":59,"x":0.22,"y":0.0063},{"s":59,"x":0.29,"y":0.0058},{"s":59,"x":0.38,"y":0.0053},{"s":59,"x":0.5,"y":0.005},{"s":59,"x":0.65,"y":0.0049},{"s":59,"x":0.85,"y":0.0047},{"s":59,"x":1.1,"y":0.0046},{"s":59,"x":1.5,"y":0.0045},{"s":59,"x":2,"y":0.0045},{"s":59,"x":2.6,"y":0.0044},{"s":59,"x":3.2,"y":0.0044},{"s":59,"x":4,"y":0.0045},
{"s":60,"x":0.01,"y":0.005},{"s":60,"x":0.03,"y":0.0035},{"s":60,"x":0.05,"y":0.0045},{"s":60,"x":0.09,"y":0.0038},{"s":60,"x":0.12,"y":0.0042},{"s":60,"x":0.17,"y":0.0036},{"s":60,"x":0.22,"y":0.004},{"s":60,"x":0.29,"y":0.0038},{"s":60,"x":0.38,"y":0.0037},{"s":60,"x":0.5,"y":0.004},{"s":60,"x":0.65,"y":0.0038},{"s":60,"x":0.85,"y":0.0037},{"s":60,"x":1.1,"y":0.0038},{"s":60,"x":1.5,"y":0.0039},{"s":60,"x":2,"y":0.0038},{"s":60,"x":2.6,"y":0.0039},{"s":60,"x":3.2,"y":0.0038},{"s":60,"x":4,"y":0.0039},
{"s":61,"x":0.01,"y":0.015},{"s":61,"x":0.03,"y":0.014},{"s":61,"x":0.05,"y":0.0115},{"s":61,"x":0.09,"y":0.01},{"s":61,"x":0.12,"y":0.0086},{"s":61,"x":0.17,"y":0.0076},{"s":61,"x":0.22,"y":0.007},{"s":61,"x":0.29,"y":0.0063},{"s":61,"x":0.38,"y":0.0058},{"s":61,"x":0.5,"y":0.0055},{"s":61,"x":0.65,"y":0.0052},{"s":61,"x":0.85,"y":0.005},{"s":61,"x":1.1,"y":0.0049},{"s":61,"x":1.5,"y":0.0048},{"s":61,"x":2,"y":0.0047},{"s":61,"x":2.6,"y":0.0047},{"s":61,"x":3.2,"y":0.0046},{"s":61,"x":4,"y":0.0046},
{"s":62,"x":0.01,"y":0.0025},{"s":62,"x":0.03,"y":0.005},{"s":62,"x":0.05,"y":0.003},{"s":62,"x":0.09,"y":0.0035},{"s":62,"x":0.12,"y":0.003},{"s":62,"x":0.17,"y":0.0034},{"s":62,"x":0.22,"y":0.003},{"s":62,"x":0.29,"y":0.0033},{"s":62,"x":0.38,"y":0.0031},{"s":62,"x":0.5,"y":0.0034},{"s":62,"x":0.65,"y":0.0033},{"s":62,"x":0.85,"y":0.0034},{"s":62,"x":1.1,"y":0.0035},{"s":62,"x":1.5,"y":0.0035},{"s":62,"x":2,"y":0.0036},{"s":62,"x":2.6,"y":0.0036},{"s":62,"x":3.2,"y":0.0037},{"s":62,"x":4,"y":0.0037},
{"s":63,"x":0.01,"y":0.0095},{"s":63,"x":0.03,"y":0.008},{"s":63,"x":0.05,"y":0.007},{"s":63,"x":0.09,"y":0.0066},{"s":63,"x":0.12,"y":0.0058},{"s":63,"x":0.17,"y":0.0055},{"s":63,"x":0.22,"y":0.0054},{"s":63,"x":0.29,"y":0.005},{"s":63,"x":0.38,"y":0.0048},{"s":63,"x":0.5,"y":0.0044},{"s":63,"x":0.65,"y":0.0045},{"s":63,"x":0.85,"y":0.0043},{"s":63,"x":1.1,"y":0.0042},{"s":63,"x":1.5,"y":0.0042},{"s":63,"x":2,"y":0.0042},{"s":63,"x":2.6,"y":0.0043},{"s":63,"x":3.2,"y":0.0042},{"s":63,"x":4,"y":0.0042},
{"s":64,"x":0.01,"y":0.001},{"s":64,"x":0.03,"y":0.003},{"s":64,"x":0.05,"y":0.002},{"s":64,"x":0.09,"y":0.0024},{"s":64,"x":0.12,"y":0.003},{"s":64,"x":0.17,"y":0.0022},{"s":64,"x":0.22,"y":0.0028},{"s":64,"x":0.29,"y":0.0025},{"s":64,"x":0.38,"y":0.0027},{"s":64,"x":0.5,"y":0.0029},{"s":64,"x":0.65,"y":0.0028},{"s":64,"x":0.85,"y":0.003},{"s":64,"x":1.1,"y":0.0031},{"s":64,"x":1.5,"y":0.0032},{"s":64,"x":2,"y":0.0033},{"s":64,"x":2.6,"y":0.0034},{"s":64,"x":3.2,"y":0.0035},{"s":64,"x":4,"y":0.0035},
{"s":65,"x":0.01,"y":0.014},{"s":65,"x":0.03,"y":0.011},{"s":65,"x":0.05,"y":0.012},{"s":65,"x":0.09,"y":0.009},{"s":65,"x":0.12,"y":0.0084},{"s":65,"x":0.17,"y":0.0074},{"s":65,"x":0.22,"y":0.0066},{"s":65,"x":0.29,"y":0.0062},{"s":65,"x":0.38,"y":0.0056},{"s":65,"x":0.5,"y":0.0053},{"s":65,"x":0.65,"y":0.0052},{"s":65,"x":0.85,"y":0.005},{"s":65,"x":1.1,"y":0.0048},{"s":65,"x":1.5,"y":0.0047},{"s":65,"x":2,"y":0.0046},{"s":65,"x":2.6,"y":0.0046},{"s":65,"x":3.2,"y":0.0046},{"s":65,"x":4,"y":0.0045},
{"s":66,"x":0.01,"y":0.007},{"s":66,"x":0.03,"y":0.0055},{"s":66,"x":0.05,"y":0.006},{"s":66,"x":0.09,"y":0.0048},{"s":66,"x":0.12,"y":0.005},{"s":66,"x":0.17,"y":0.0046},{"s":66,"x":0.22,"y":0.0049},{"s":66,"x":0.29,"y":0.0044},{"s":66,"x":0.38,"y":0.0046},{"s":66,"x":0.5,"y":0.0042},{"s":66,"x":0.65,"y":0.0044},{"s":66,"x":0.85,"y":0.0042},{"s":66,"x":1.1,"y":0.0041},{"s":66,"x":1.5,"y":0.004},{"s":66,"x":2,"y":0.0041},{"s":66,"x":2.6,"y":0.004},{"s":66,"x":3.2,"y":0.004},{"s":66,"x":4,"y":0.004},
{"s":67,"x":0.01,"y":0.0115},{"s":67,"x":0.03,"y":0.0125},{"s":67,"x":0.05,"y":0.009},{"s":67,"x":0.09,"y":0.0075},{"s":67,"x":0.12,"y":0.0072},{"s":67,"x":0.17,"y":0.0064},{"s":67,"x":0.22,"y":0.0058},{"s":67,"x":0.29,"y":0.0056},{"s":67,"x":0.38,"y":0.0052},{"s":67,"x":0.5,"y":0.005},{"s":67,"x":0.65,"y":0.0047},{"s":67,"x":0.85,"y":0.0046},{"s":67,"x":1.1,"y":0.0045},{"s":67,"x":1.5,"y":0.0044},{"s":67,"x":2,"y":0.0044},{"s":67,"x":2.6,"y":0.0043},{"s":67,"x":3.2,"y":0.0043},{"s":67,"x":4,"y":0.0043},
{"s":68,"x":0.01,"y":0.003},{"s":68,"x":0.03,"y":0.0015},{"s":68,"x":0.05,"y":0.0038},{"s":68,"x":0.09,"y":0.0032},{"s":68,"x":0.12,"y":0.0028},{"s":68,"x":0.17,"y":0.0035},{"s":68,"x":0.22,"y":0.0031},{"s":68,"x":0.29,"y":0.0036},{"s":68,"x":0.38,"y":0.0033},{"s":68,"x":0.5,"y":0.0032},{"s":68,"x":0.65,"y":0.0035},{"s":68,"x":0.85,"y":0.0035},{"s":68,"x":1.1,"y":0.0034},{"s":68,"x":1.5,"y":0.0036},{"s":68,"x":2,"y":0.0035},{"s":68,"x":2.6,"y":0.0036},{"s":68,"x":3.2,"y":0.0036},{"s":68,"x":4,"y":0.0036},
{"s":69,"x":0.01,"y":0.015},{"s":69,"x":0.03,"y":0.0125},{"s":69,"x":0.05,"y":0.0105},{"s":69,"x":0.09,"y":0.0092},{"s":69,"x":0.12,"y":0.008},{"s":69,"x":0.17,"y":0.0078},{"s":69,"x":0.22,"y":0.0068},{"s":69,"x":0.29,"y":0.0064},{"s":69,"x":0.38,"y":0.006},{"s":69,"x":0.5,"y":0.0058},{"s":69,"x":0.65,"y":0.0056},{"s":69,"x":0.85,"y":0.0053},{"s":69,"x":1.1,"y":0.0052},{"s":69,"x":1.5,"y":0.0051},{"s":69,"x":2,"y":0.005},{"s":69,"x":2.6,"y":0.0049},{"s":69,"x":3.2,"y":0.0048},{"s":69,"x":4,"y":0.0048},
{"s":70,"x":0.01,"y":0},{"s":70,"x":0.03,"y":0.0025},{"s":70,"x":0.05,"y":0.0012},{"s":70,"x":0.09,"y":0.002},{"s":70,"x":0.12,"y":0.0015},{"s":70,"x":0.17,"y":0.0022},{"s":70,"x":0.22,"y":0.0018},{"s":70,"x":0.29,"y":0.0024},{"s":70,"x":0.38,"y":0.0021},{"s":70,"x":0.5,"y":0.0025},{"s":70,"x":0.65,"y":0.0024},{"s":70,"x":0.85,"y":0.0026},{"s":70,"x":1.1,"y":0.0028},{"s":70,"x":1.5,"y":0.0029},{"s":70,"x":2,"y":0.0031},{"s":70,"x":2.6,"y":0.0032},{"s":70,"x":3.2,"y":0.0033},{"s":70,"x":4,"y":0.0033},
{"s":71,"x":0.01,"y":0.009},{"s":71,"x":0.03,"y":0.01},{"s":71,"x":0.05,"y":0.008},{"s":71,"x":0.09,"y":0.0064},{"s":71,"x":0.12,"y":0.0066},{"s":71,"x":0.17,"y":0.0058},{"s":71,"x":0.22,"y":0.0055},{"s":71,"x":0.29,"y":0.0052},{"s":71,"x":0.38,"y":0.0049},{"s":71,"x":0.5,"y":0.0047},{"s":71,"x":0.65,"y":0.0046},{"s":71,"x":0.85,"y":0.0044},{"s":71,"x":1.1,"y":0.0044},{"s":71,"x":1.5,"y":0.0043},{"s":71,"x":2,"y":0.0043},{"s":71,"x":2.6,"y":0.0042},{"s":71,"x":3.2,"y":0.0042},{"s":71,"x":4,"y":0.0042},
{"s":72,"x":0.01,"y":0.0045},{"s":72,"x":0.03,"y":0.003},{"s":72,"x":0.05,"y":0.005},{"s":72,"x":0.09,"y":0.0042},{"s":72,"x":0.12,"y":0.0038},{"s":72,"x":0.17,"y":0.0042},{"s":72,"x":0.22,"y":0.0037},{"s":72,"x":0.29,"y":0.004},{"s":72,"x":0.38,"y":0.0036},{"s":72,"x":0.5,"y":0.0038},{"s":72,"x":0.65,"y":0.0037},{"s":72,"x":0.85,"y":0.0038},{"s":72,"x":1.1,"y":0.0037},{"s":72,"x":1.5,"y":0.0038},{"s":72,"x":2,"y":0.0038},{"s":72,"x":2.6,"y":0.0038},{"s":72,"x":3.2,"y":0.0037},{"s":72,"x":4,"y":0.0038},
{"s":73,"x":0.01,"y":0.0135},{"s":73,"x":0.03,"y":0.011},{"s":73,"x":0.05,"y":0.0095},{"s":73,"x":0.09,"y":0.0086},{"s":73,"x":0.12,"y":0.0076},{"s":73,"x":0.17,"y":0.0068},{"s":73,"x":0.22,"y":0.0064},{"s":73,"x":0.29,"y":0.0058},{"s":73,"x":0.38,"y":0.0056},{"s":73,"x":0.5,"y":0.0051},{"s":73,"x":0.65,"y":0.0049},{"s":73,"x":0.85,"y":0.0048},{"s":73,"x":1.1,"y":0.0047},{"s":73,"x":1.5,"y":0.0046},{"s":73,"x":2,"y":0.0045},{"s":73,"x":2.6,"y":0.0045},{"s":73,"x":3.2,"y":0.0044},{"s":73,"x":4,"y":0.0044},
{"s":74,"x":0.01,"y":0.0015},{"s":74,"x":0.03,"y":0.004},{"s":74,"x":0.05,"y":0.0025},{"s":74,"x":0.09,"y":0.0032},{"s":74,"x":0.12,"y":0.0026},{"s":74,"x":0.17,"y":0.0031},{"s":74,"x":0.22,"y":0.0027},{"s":74,"x":0.29,"y":0.003},{"s":74,"x":0.38,"y":0.0029},{"s":74,"x":0.5,"y":0.003},{"s":74,"x":0.65,"y":0.0031},{"s":74,"x":0.85,"y":0.0032},{"s":74,"x":1.1,"y":0.0032},{"s":74,"x":1.5,"y":0.0033},{"s":74,"x":2,"y":0.0034},{"s":74,"x":2.6,"y":0.0034},{"s":74,"x":3.2,"y":0.0035},{"s":74,"x":4,"y":0.0036},
{"s":75,"x":0.01,"y":0.0105},{"s":75,"x":0.03,"y":0.009},{"s":75,"x":0.05,"y":0.008},{"s":75,"x":0.09,"y":0.0068},{"s":75,"x":0.12,"y":0.0064},{"s":75,"x":0.17,"y":0.006},{"s":75,"x":0.22,"y":0.0056},{"s":75,"x":0.29,"y":0.0052},{"s":75,"x":0.38,"y":0.0048},{"s":75,"x":0.5,"y":0.0046},{"s":75,"x":0.65,"y":0.0044},{"s":75,"x":0.85,"y":0.0043},{"s":75,"x":1.1,"y":0.0043},{"s":75,"x":1.5,"y":0.0043},{"s":75,"x":2,"y":0.0042},{"s":75,"x":2.6,"y":0.0041},{"s":75,"x":3.2,"y":0.0041},{"s":75,"x":4,"y":0.0041},
{"s":76,"x":0.01,"y":0.0055},{"s":76,"x":0.03,"y":0.0075},{"s":76,"x":0.05,"y":0.0052},{"s":76,"x":0.09,"y":0.0046},{"s":76,"x":0.12,"y":0.005},{"s":76,"x":0.17,"y":0.0043},{"s":76,"x":0.22,"y":0.0046},{"s":76,"x":0.29,"y":0.0042},{"s":76,"x":0.38,"y":0.0044},{"s":76,"x":0.5,"y":0.004},{"s":76,"x":0.65,"y":0.0042},{"s":76,"x":0.85,"y":0.004},{"s":76,"x":1.1,"y":0.0039},{"s":76,"x":1.5,"y":0.0039},{"s":76,"x":2,"y":0.0039},{"s":76,"x":2.6,"y":0.004},{"s":76,"x":3.2,"y":0.0039},{"s":76,"x":4,"y":0.004},
{"s":77,"x":0.01,"y":0.015},{"s":77,"x":0.03,"y":0.015},{"s":77,"x":0.05,"y":0.013},{"s":77,"x":0.09,"y":0.0105},{"s":77,"x":0.12,"y":0.0095},{"s":77,"x":0.17,"y":0.0086},{"s":77,"x":0.22,"y":0.0076},{"s":77,"x":0.29,"y":0.007},{"s":77,"x":0.38,"y":0.0064},{"s":77,"x":0.5,"y":0.006},{"s":77,"x":0.65,"y":0.0056},{"s":77,"x":0.85,"y":0.0053},{"s":77,"x":1.1,"y":0.0051},{"s":77,"x":1.5,"y":0.005},{"s":77,"x":2,"y":0.0049},{"s":77,"x":2.6,"y":0.0049},{"s":77,"x":3.2,"y":0.0048},{"s":77,"x":4,"y":0.0047},
{"s":78,"x":0.01,"y":0.0035},{"s":78,"x":0.03,"y":0.002},{"s":78,"x":0.05,"y":0.004},{"s":78,"x":0.09,"y":0.003},{"s":78,"x":0.12,"y":0.0035},{"s":78,"x":0.17,"y":0.003},{"s":78,"x":0.22,"y":0.0033},{"s":78,"x":0.29,"y":0.0029},{"s":78,"x":0.38,"y":0.0032},{"s":78,"x":0.5,"y":0.0031},{"s":78,"x":0.65,"y":0.0032},{"s":78,"x":0.85,"y":0.0033},{"s":78,"x":1.1,"y":0.0033},{"s":78,"x":1.5,"y":0.0034},{"s":78,"x":2,"y":0.0034},{"s":78,"x":2.6,"y":0.0035},{"s":78,"x":3.2,"y":0.0035},{"s":78,"x":4,"y":0.0035},
{"s":79,"x":0.01,"y":0.008},{"s":79,"x":0.03,"y":0.0065},{"s":79,"x":0.05,"y":0.007},{"s":79,"x":0.09,"y":0.0055},{"s":79,"x":0.12,"y":0.0058},{"s":79,"x":0.17,"y":0.005},{"s":79,"x":0.22,"y":0.0048},{"s":79,"x":0.29,"y":0.005},{"s":79,"x":0.38,"y":0.0046},{"s":79,"x":0.5,"y":0.0044},{"s":79,"x":0.65,"y":0.0045},{"s":79,"x":0.85,"y":0.0043},{"s":79,"x":1.1,"y":0.0042},{"s":79,"x":1.5,"y":0.0042},{"s":79,"x":2,"y":0.0041},{"s":79,"x":2.6,"y":0.0041},{"s":79,"x":3.2,"y":0.0041},{"s":79,"x":4,"y":0.004},
{"s":80,"x":0.01,"y":0.0005},{"s":80,"x":0.03,"y":0},{"s":80,"x":0.05,"y":0.002},{"s":80,"x":0.09,"y":0.0018},{"s":80,"x":0.12,"y":0.0024},{"s":80,"x":0.17,"y":0.0018},{"s":80,"x":0.22,"y":0.0024},{"s":80,"x":0.29,"y":0.002},{"s":80,"x":0.38,"y":0.0024},{"s":80,"x":0.5,"y":0.0022},{"s":80,"x":0.65,"y":0.0025},{"s":80,"x":0.85,"y":0.0027},{"s":80,"x":1.1,"y":0.0029},{"s":80,"x":1.5,"y":0.003},{"s":80,"x":2,"y":0.0032},{"s":80,"x":2.6,"y":0.0033},{"s":80,"x":3.2,"y":0.0033},{"s":80,"x":4,"y":0.0034}
],
"blue":[
{"x":0.005,"y":0.013},{"x":0.03,"y":0.0105},{"x":0.07,"y":0.0088},{"x":0.12,"y":0.0078},{"x":0.2,"y":0.0068},{"x":0.3,"y":0.0064},{"x":0.4,"y":0.006},{"x":0.5,"y":0.0057},{"x":0.57,"y":0.0056},{"x":0.6,"y":0.0053},{"x":0.62,"y":0.0059},{"x":0.64,"y":0.006},{"x":0.68,"y":0.0056},{"x":0.72,"y":0.0058},{"x":0.76,"y":0.0066},{"x":0.8,"y":0.007},{"x":0.83,"y":0.0069},{"x":0.9,"y":0.0066},{"x":0.95,"y":0.0064},{"x":0.97,"y":0.0063},{"x":1.04,"y":0.0065},{"x":1.11,"y":0.00645},{"x":1.17,"y":0.0066},{"x":1.24,"y":0.0063},{"x":1.27,"y":0.00665},{"x":1.33,"y":0.0065},{"x":1.39,"y":0.00645},{"x":1.47,"y":0.0064},{"x":1.56,"y":0.0063},{"x":1.62,"y":0.0065},{"x":1.66,"y":0.0066},{"x":1.75,"y":0.0065},{"x":1.84,"y":0.00653},{"x":1.91,"y":0.00698},{"x":2.0,"y":0.0069},{"x":2.15,"y":0.00698},{"x":2.3,"y":0.0071},{"x":2.42,"y":0.00698},{"x":2.49,"y":0.00725},{"x":2.61,"y":0.0074},{"x":2.7,"y":0.0073},{"x":2.82,"y":0.00728},{"x":2.95,"y":0.0073},{"x":3.08,"y":0.0074},{"x":3.22,"y":0.00754},{"x":3.3,"y":0.0075},{"x":3.39,"y":0.0074},{"x":3.5,"y":0.0074},{"x":3.61,"y":0.00734},{"x":3.75,"y":0.00716},{"x":3.82,"y":0.0072},{"x":3.88,"y":0.00725},{"x":4.0,"y":0.00728}
],
"red":[
{"x":0.005,"y":0.009},{"x":0.03,"y":0.0055},{"x":0.06,"y":0.0028},{"x":0.08,"y":0.0038},{"x":0.12,"y":0.0024},{"x":0.14,"y":0.003},{"x":0.19,"y":0.0019},{"x":0.21,"y":0.0024},{"x":0.24,"y":0.0016},{"x":0.27,"y":0.0014},{"x":0.3,"y":0.00163},{"x":0.33,"y":0.0014},{"x":0.36,"y":0.00178},{"x":0.38,"y":0.0016},{"x":0.41,"y":0.0017},{"x":0.5,"y":0.0014},{"x":0.61,"y":0.0011},{"x":0.63,"y":0.0015},{"x":0.65,"y":0.00178},{"x":0.74,"y":0.0016},{"x":0.8,"y":0.0016},{"x":0.84,"y":0.0019},{"x":0.87,"y":0.00214},{"x":0.97,"y":0.00184},{"x":1.03,"y":0.00205},{"x":1.08,"y":0.002},{"x":1.14,"y":0.00208},{"x":1.22,"y":0.00223},{"x":1.27,"y":0.00235},{"x":1.37,"y":0.00229},{"x":1.47,"y":0.00235},{"x":1.63,"y":0.00229},{"x":1.73,"y":0.00232},{"x":1.79,"y":0.00235},{"x":2.0,"y":0.00223},{"x":2.04,"y":0.00238},{"x":2.15,"y":0.00252},{"x":2.23,"y":0.0025},{"x":2.51,"y":0.00235},{"x":2.74,"y":0.0022},{"x":2.99,"y":0.00211},{"x":3.2,"y":0.00208},{"x":3.42,"y":0.00205},{"x":3.84,"y":0.00199},{"x":4.0,"y":0.00196}
],
"arrowBlue":[{"x":1.095,"y":0.00653,"x2":1.52,"y2":0.00832}],
"arrowRed":[{"x":1.79,"y":0.00226,"x2":2.02,"y2":0.00096}],
"labelBlue":[{"x":1.67,"y":0.00846,"t":"c₂=0x0a, k₂=0x61 ⊕ 0x0a=0x6b"}],
"labelRed":[{"x":2.2,"y":0.00092,"t":"c₂=0x08, k₂=0x63 ⊕ 0x08=0x6b"}]
},
"resolve":{"axis":{"x":"independent","y":"independent"}},
"layer":[
{"data":{"name":"blue"},"mark":{"type":"line","strokeWidth":2.6,"color":"#0000ff","clip":true},
"encoding":{"x":{"field":"x","type":"quantitative","scale":{"domain":[0,4],"nice":false,"zero":false},"axis":{"orient":"top","labels":false,"title":null,"values":[0,0.5,1,1.5,2,2.5,3,3.5,4]}},
"y":{"field":"y","type":"quantitative","scale":{"domain":[0,0.015],"nice":false},"axis":{"orient":"right","labels":false,"title":null,"values":[0,0.005,0.01,0.015]}}}},
{"data":{"name":"red"},"mark":{"type":"line","strokeWidth":2.6,"color":"#ff0000","clip":true},
"encoding":{"x":{"field":"x","type":"quantitative","axis":null},"y":{"field":"y","type":"quantitative","axis":null}}},
{"data":{"name":"thin"},"mark":{"type":"line","strokeWidth":1.1,"clip":true},
"encoding":{
"x":{"field":"x","type":"quantitative","axis":{"values":[0,0.5,1,1.5,2,2.5,3,3.5,4],"labelExpr":"format(datum.value,'~g')","labelPadding":14,"title":"Number of ciphertexts","titleFont":"Liberation Serif","titleFontSize":20,"titleFontWeight":"bold","titlePadding":5}},
"y":{"field":"y","type":"quantitative","axis":{"values":[0,0.005,0.01,0.015],"labelExpr":"format(datum.value,'~g')","labelPadding":17,"title":"Probability","titleFont":"Liberation Serif","titleFontSize":20,"titleFontWeight":"bold","titlePadding":9}},
"color":{"field":"s","type":"nominal","legend":null,"scale":{"range":["#0000ff","#008000","#ff0000","#00bfbf","#bf00bf","#bfbf00","#404040"]}},
"detail":{"field":"s"}}},
{"data":{"name":"blue"},"transform":[{"filter":"datum.x >= 0.58"}],"mark":{"type":"line","strokeWidth":2.6,"color":"#0000ff","clip":true},
"encoding":{"x":{"field":"x","type":"quantitative","axis":null},"y":{"field":"y","type":"quantitative","axis":null}}},
{"data":{"name":"red"},"transform":[{"filter":"datum.x >= 0.55"}],"mark":{"type":"line","strokeWidth":2.6,"color":"#ff0000","clip":true},
"encoding":{"x":{"field":"x","type":"quantitative","axis":null},"y":{"field":"y","type":"quantitative","axis":null}}},
{"data":{"name":"arrowBlue"},"mark":{"type":"rule","color":"#0000ff","strokeWidth":1.5},
"encoding":{"x":{"field":"x","type":"quantitative","axis":null},"y":{"field":"y","type":"quantitative","axis":null},"x2":{"field":"x2"},"y2":{"field":"y2"}}},
{"data":{"name":"arrowBlue"},"mark":{"type":"point","shape":"triangle-up","filled":true,"size":90,"angle":49,"color":"#0000ff","opacity":1},
"encoding":{"x":{"field":"x2","type":"quantitative","axis":null},"y":{"field":"y2","type":"quantitative","axis":null}}},
{"data":{"name":"arrowRed"},"mark":{"type":"rule","color":"#ff0000","strokeWidth":1.5},
"encoding":{"x":{"field":"x","type":"quantitative","axis":null},"y":{"field":"y","type":"quantitative","axis":null},"x2":{"field":"x2"},"y2":{"field":"y2"}}},
{"data":{"name":"arrowRed"},"mark":{"type":"point","shape":"triangle-up","filled":true,"size":90,"angle":139,"color":"#ff0000","opacity":1},
"encoding":{"x":{"field":"x2","type":"quantitative","axis":null},"y":{"field":"y2","type":"quantitative","axis":null}}},
{"data":{"name":"labelBlue"},"mark":{"type":"text","align":"left","baseline":"middle","font":"Liberation Sans","fontWeight":"bold","fontSize":16.5,"color":"#0000ff"},
"encoding":{"x":{"field":"x","type":"quantitative","axis":null},"y":{"field":"y","type":"quantitative","axis":null},"text":{"field":"t"}}},
{"data":{"name":"labelRed"},"mark":{"type":"text","align":"left","baseline":"middle","font":"Liberation Sans","fontWeight":"bold","fontSize":16.5,"color":"#ff0000"},
"encoding":{"x":{"field":"x","type":"quantitative","axis":null},"y":{"field":"y","type":"quantitative","axis":null},"text":{"field":"t"}}}
]
}
